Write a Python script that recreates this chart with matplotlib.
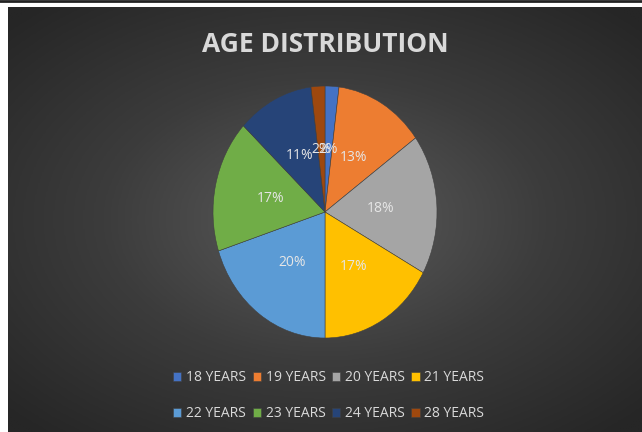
import numpy as np
import matplotlib.pyplot as plt
from matplotlib.colors import LinearSegmentedColormap

ages = ['18 YEARS', '19 YEARS', '20 YEARS', '21 YEARS',
        '22 YEARS', '23 YEARS', '24 YEARS', '28 YEARS']
shares = [2, 13, 18, 17, 20, 17, 11, 2]
colors = ['#4472C4', '#ED7D31', '#A5A5A5', '#FFC000',
          '#5B9BD5', '#70AD47', '#264478', '#9E480E']

plt.rcParams['font.family'] = ['Open Sans', 'DejaVu Sans']

fig = plt.figure(figsize=(6.42, 4.32), dpi=100)
fig.patch.set_facecolor('white')

# thin black rule at the very top
fig.add_artist(plt.Line2D([0, 1], [0.998, 0.998], color='#222222', lw=2))

# dark chart area with a radial gradient
bg = fig.add_axes([8 / 642, 0, 634 / 642, 425 / 432])
bg.set_axis_off()
yy, xx = np.mgrid[-1:1:300j, -1:1:450j]
rr = np.sqrt((xx / 1.0) ** 2 + (yy / 0.95) ** 2)
cmap = LinearSegmentedColormap.from_list('bg', ['#5c5c5c', '#3c3c3c', '#262626'])
bg.imshow(rr, cmap=cmap, vmin=0, vmax=1.4, aspect='auto',
          extent=[0, 1, 0, 1], interpolation='bilinear')
bg.set_xlim(0, 1)
bg.set_ylim(0, 1)

fig.text(0.507, 0.898, 'AGE DISTRIBUTION', ha='center', va='center',
         color='#D9D9D9', fontsize=19, fontweight='bold')

# pie drawn slightly taller than wide, like the original
ax = fig.add_axes([213 / 642, (432 - 338) / 432, 224 / 642, 252 / 432])
wedges, texts = ax.pie(shares, colors=colors, startangle=90, counterclock=False,
                       labels=[f'{s}%' for s in shares], labeldistance=0.5,
                       wedgeprops=dict(edgecolor='#404040', linewidth=0.4),
                       textprops=dict(color='#E6E6E6', fontsize=10))
for t in texts:
    t.set_ha('center')
    t.set_va('center')
ax.set_aspect('auto')
ax.set_xlim(-1, 1)
ax.set_ylim(-1, 1)

# legend fills column by column, so reorder to read row by row
order = [0, 4, 1, 5, 2, 6, 3, 7]
leg = fig.legend([wedges[i] for i in order], [ages[i] for i in order],
                 loc='center', bbox_to_anchor=(0.512, 0.084),
                 ncol=4, frameon=False, fontsize=10, handlelength=0.6,
                 handleheight=0.6, handletextpad=0.35, columnspacing=0.45,
                 labelspacing=1.5, labelcolor='#D9D9D9')

fig.savefig('out.png', dpi=100, facecolor=fig.get_facecolor())
